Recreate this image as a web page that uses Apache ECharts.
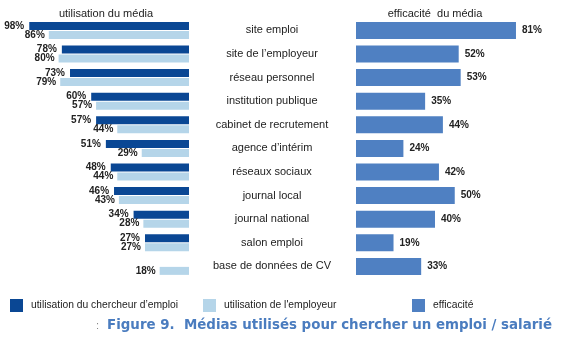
<!DOCTYPE html>
<html><head><meta charset="utf-8">
<script src="https://cdn.jsdelivr.net/npm/echarts@6/dist/echarts.min.js"></script>
<style>html,body{margin:0;padding:0;background:#fff}#c{width:561px;height:341px}</style>
</head><body><div id="c"></div>
<script>
const categories = ["site emploi","site de l’employeur","réseau personnel","institution publique","cabinet de recrutement","agence d’intérim","réseaux sociaux","journal local","journal national","salon emploi","base de données de CV"];
const chercheur = [98,78,73,60,57,51,48,46,34,27,null];
const employeur = [86,80,79,57,44,29,44,43,28,27,18];
const efficacite = [81,52,53,35,44,24,42,50,40,19,33];
const seriesNames = ["utilisation du chercheur d’emploi","utilisation de l'employeur","efficacité"];

const FONT = "Liberation Sans";
const c1 = "#0a4794", c2 = "#b5d5e9", c3 = "#4f80c2";
const chart = echarts.init(document.getElementById('c'), null, {renderer:'canvas'});
const pctLabel = (pos, dist) => ({show:true, position:pos, distance:dist, formatter: p => p.value==null?'':p.value+'%', fontFamily:FONT, fontSize:10, fontWeight:'bold', color:'#222'});
const legText = {fontFamily:FONT, fontSize:10.3, color:'#222', padding:[0,0,0,3]};
chart.setOption({
  backgroundColor:'#fff',
  animation:false,
  title:[
    {text:'utilisation du média', left:101, top:3, textAlign:'center', textStyle:{fontFamily:FONT, fontSize:11, fontWeight:'normal', color:'#222'}},
    {text:'efficacité  du média', left:430, top:3, textAlign:'center', textStyle:{fontFamily:FONT, fontSize:11, fontWeight:'normal', color:'#222'}},
    {text:'Figure 9.  Médias utilisés pour chercher un emploi / salarié', right:9, top:319, padding:0, textStyle:{fontFamily:"DejaVu Sans", fontSize:13.4, fontWeight:'bold', color:'#4a7cbf'}},
    {text:':', left:96, top:320, padding:0, textStyle:{fontFamily:FONT, fontSize:11, fontWeight:'normal', color:'#888'}}
  ],
  legend:[
    {data:[seriesNames[0]], left:10, top:299, padding:0, itemWidth:13, itemHeight:13, icon:'rect', textStyle:legText},
    {data:[seriesNames[1]], left:203, top:299, padding:0, itemWidth:13, itemHeight:13, icon:'rect', textStyle:legText},
    {data:[seriesNames[2]], left:412, top:299, padding:0, itemWidth:13, itemHeight:13, icon:'rect', textStyle:legText}
  ],
  grid:[
    {left:26, width:163, top:18.6, height:259.6},
    {left:356, width:197.5, top:18.6, height:259.6}
  ],
  xAxis:[
    {gridIndex:0, type:'value', min:0, max:100, inverse:true, show:false},
    {gridIndex:1, type:'value', min:0, max:100, show:false}
  ],
  yAxis:[
    {gridIndex:0, type:'category', data:categories, inverse:true, show:false},
    {gridIndex:1, type:'category', data:categories, inverse:true, axisLine:{show:false}, axisTick:{show:false}, splitLine:{show:false},
     axisLabel:{align:'center', margin:84, padding:[6,0,0,0], fontFamily:FONT, fontSize:11, color:'#222'}}
  ],
  series:[
    {name:seriesNames[0], type:'bar', xAxisIndex:0, yAxisIndex:0, data:chercheur, barWidth:8, barGap:'12%', itemStyle:{color:c1}, label:pctLabel('left',5)},
    {name:seriesNames[1], type:'bar', xAxisIndex:0, yAxisIndex:0, data:employeur, barWidth:8, barGap:'12%', itemStyle:{color:c2}, label:pctLabel('left',4)},
    {name:seriesNames[2], type:'bar', xAxisIndex:1, yAxisIndex:1, data:efficacite, barWidth:17, itemStyle:{color:c3}, label:pctLabel('right',6)}
  ]
});
</script></body></html>
